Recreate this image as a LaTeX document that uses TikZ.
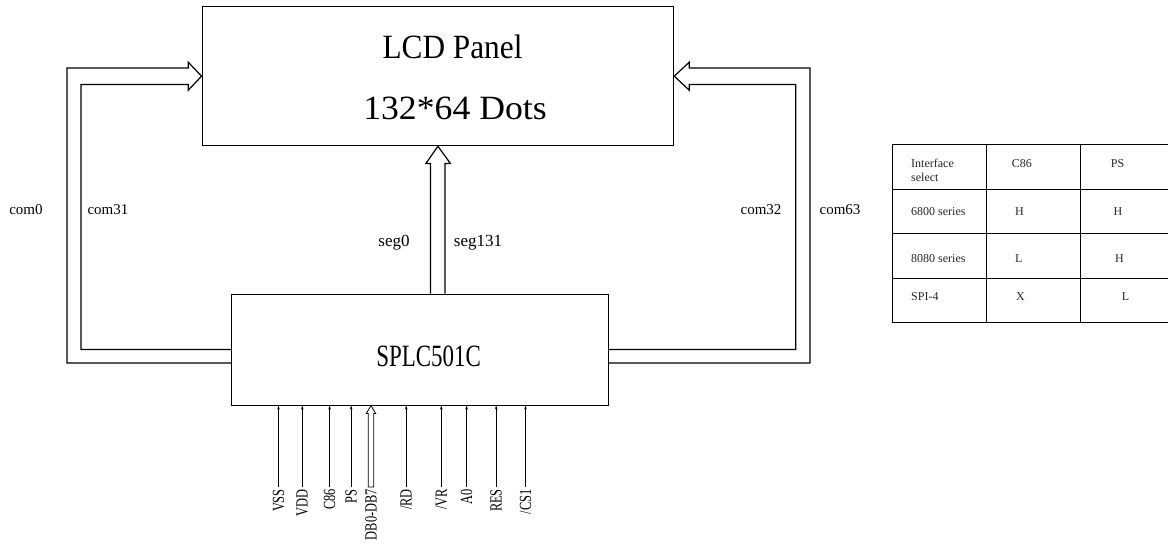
\documentclass[tikz,border=0pt]{standalone}
\usepackage{fontspec}
\setmainfont{Liberation Serif}
\usepackage{tikz}
\usetikzlibrary{arrows.meta}
\usetikzlibrary{calc,positioning}

\begin{document}
\begin{tikzpicture}[x=1pt, y=-1pt,
  boite/.style={draw, line width=1pt, inner sep=0pt},
  bus/.style={draw, line width=1.2pt, line join=miter},
  fil/.style={line width=0.8pt, -{Stealth[length=4pt,width=2.6pt]}},
  broche/.style={rotate=90, anchor=east, inner sep=0pt, font=\fontsize{17pt}{17pt}\selectfont},
  com/.style={font=\fontsize{15pt}{15pt}\selectfont},
  seg/.style={font=\fontsize{17pt}{17pt}\selectfont},
  tab/.style={anchor=west, inner sep=0pt, align=left, text=black!85, font=\fontsize{12pt}{14.4pt}\selectfont}]

  \useasboundingbox (0,0) rectangle (1168,547);

  % Les deux boîtes : l'écran et le contrôleur
  \node[boite, minimum width=471.7pt, minimum height=139pt] (lcd) at (437.9,76.2) {};
  \node[boite, minimum width=377pt, minimum height=111pt] (splc) at (420,349.5) {};

  \node[font=\fontsize{34pt}{34pt}\selectfont] (titre) at (452.5,46.7) {\scalebox{0.92}[1]{LCD Panel}};
  \node[font=\fontsize{34pt}{34pt}\selectfont] (points) at (455,108) {\scalebox{1.05}[1]{132*64 Dots}};
  \node[font=\fontsize{31pt}{31pt}\selectfont] (puce) at (428.6,356.7) {\scalebox{0.74}[1]{SPLC501C}};

  % Bus com0 - com31 (à gauche)
  \draw[bus] ($(splc.west)+(0,13.5)$) -| ($(lcd.west)+(-134.6,-8.3)$)
    -- ($(lcd.west)+(-13.3,-8.3)$) -- ($(lcd.west)+(-13.3,-14)$) -- (lcd.west)
    -- ($(lcd.west)+(-13.3,14)$) -- ($(lcd.west)+(-13.3,8.3)$)
    -- ($(lcd.west)+(-120.5,8.3)$) |- (splc.west);

  % Bus com32 - com63 (à droite)
  \draw[bus] ($(splc.east)+(0,13.5)$) -| ($(lcd.east)+(135.8,-8.3)$)
    -- ($(lcd.east)+(15,-8.3)$) -- ($(lcd.east)+(15,-14)$) -- (lcd.east)
    -- ($(lcd.east)+(15,14)$) -- ($(lcd.east)+(15,8.3)$)
    -- ($(lcd.east)+(121.5,8.3)$) |- (splc.east);

  % Bus seg0 - seg131
  \coordinate (segG) at ($(lcd.south)+(-7.4,17.3)$);
  \coordinate (segD) at ($(lcd.south)+(7,17.3)$);
  \draw[bus] (segG |- splc.north) -- (segG) -- ++(-4.6,0) -- (lcd.south)
    -- ($(segD)+(5.5,0)$) -- (segD) -- (segD |- splc.north);

  \node[com] (c0) at (26,210) {com0};
  \node[com] (c31) at (108,210) {com31};
  \node[com] (c32) at (761,210) {com32};
  \node[com] (c63) at (840,210) {com63};
  \node[seg] (s0) at (394,242.7) {seg0};
  \node[seg] (s131) at (478,242.7) {seg131};

  % Broches du contrôleur
  \foreach \x/\nom [count=\i] in {278.5/VSS, 302.3/VDD, 329.6/C86, 351.1/PS, 406.2/{/RD},
      441.3/{/VR}, 466.6/A0, 496.2/RES, 525.5/{/CS1}} {
    \node[broche] (p\i) at (\x,489) {\scalebox{0.73}[1]{\nom}};
    \draw[fil] ($(p\i.east)+(0,-2)$) -- (p\i.east |- splc.south);
  }

  % Bus de données DB0-DB7
  \node[broche] (pdb) at (371,489) {\scalebox{0.73}[1]{DB0-DB7}};
  \draw[line width=0.8pt] ($(pdb.east)+(-2.7,-2)$) -- ($(pdb.east |- splc.south)+(-2.7,8)$)
    -- ++(-2,0) -- (pdb.east |- splc.south) -- ++(4.7,8) -- ++(-2,0)
    -- ($(pdb.east)+(2.7,-2)$) -- cycle;

  % Tableau de sélection de l'interface
  \foreach \y in {144.7,189.3,233.7,278,322.3}
    \draw[line width=1pt] (892,\y) -- (1168,\y);
  \foreach \x in {892,986.7,1080.7}
    \draw[line width=1pt] (\x,144.7) -- (\x,322.3);

  \node[tab] (t11) at (911,170.5) {Interface\\select};
  \node[tab] (t12) at (1011.7,163.3) {C86};
  \node[tab] (t13) at (1110.7,163.3) {PS};
  \node[tab] (t21) at (911,211.7) {6800 series};
  \node[tab] (t22) at (1015,211.7) {H};
  \node[tab] (t23) at (1113.3,211.7) {H};
  \node[tab] (t31) at (911,258.3) {8080 series};
  \node[tab] (t32) at (1015,258.3) {L};
  \node[tab] (t33) at (1115,258.3) {H};
  \node[tab] (t41) at (911,296.7) {SPI-4};
  \node[tab] (t42) at (1016,296.7) {X};
  \node[tab] (t43) at (1121.7,296.7) {L};

\end{tikzpicture}
\end{document}
